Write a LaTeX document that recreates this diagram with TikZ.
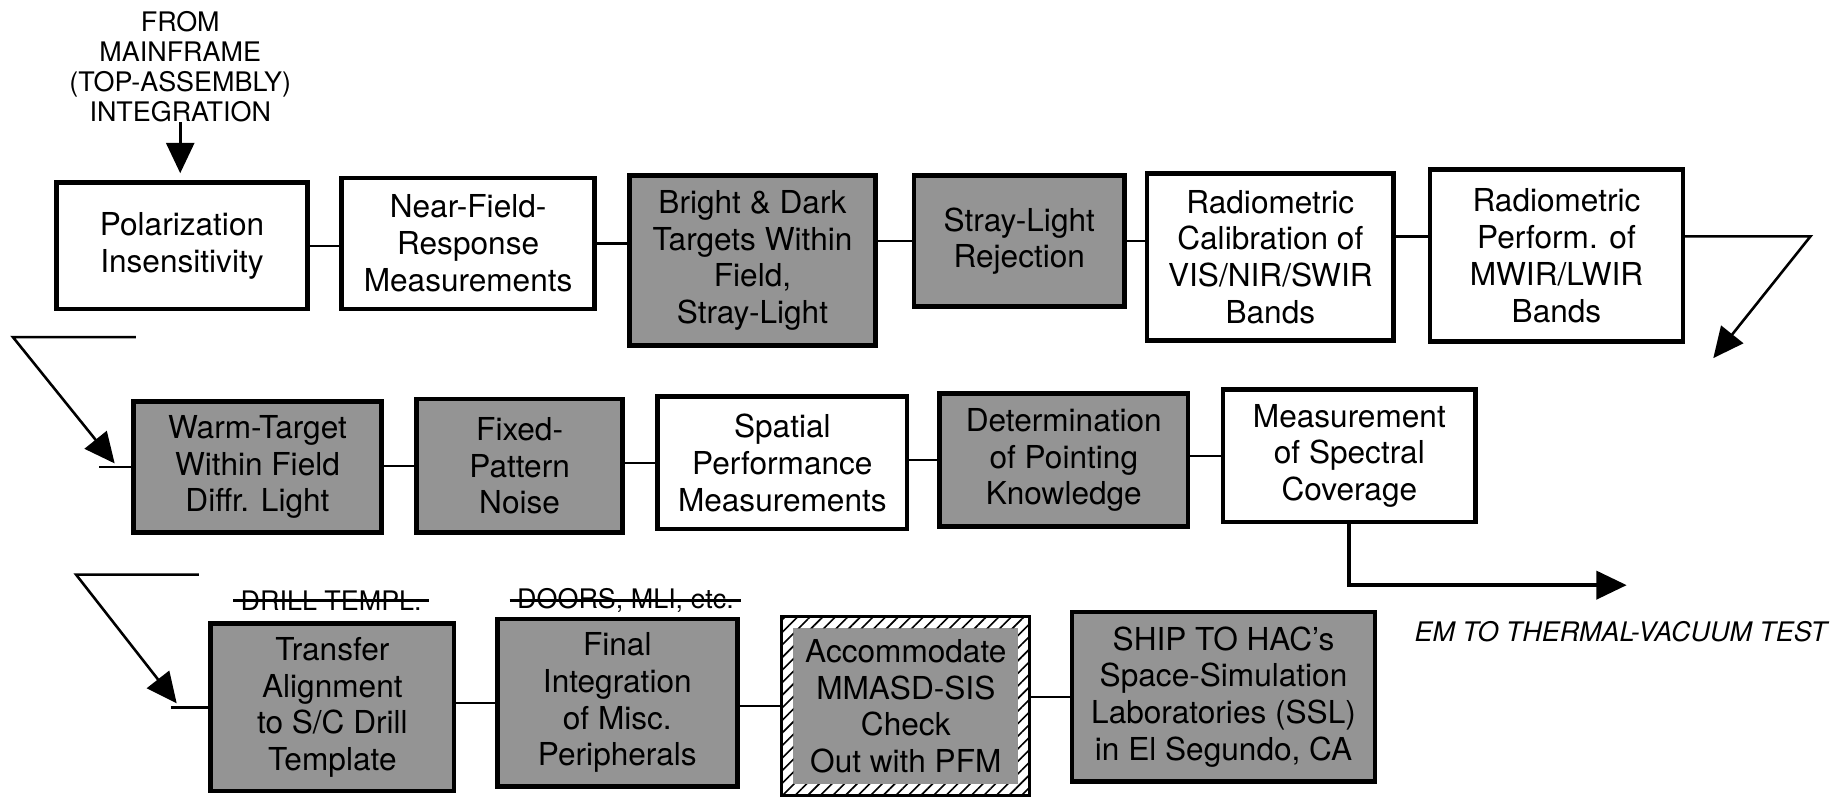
\documentclass[tikz,border=0pt]{standalone}
\usepackage{fontspec}
\setmainfont{TeX Gyre Heros}
\usepackage{tikz}
\usetikzlibrary{arrows.meta,positioning,patterns.meta}
\newcommand{\boxfont}{\fontsize{13.5pt}{15.7pt}\selectfont}
\newcommand{\notefont}{\fontsize{11.5pt}{12.7pt}\selectfont}
\tikzstyle{stage} = [draw,line width=2pt,rectangle,inner sep=0,align=center,font=\boxfont]
\tikzstyle{stagegray} = [stage,fill=black!42]
\tikzstyle{stagehatch} = [rectangle,inner sep=0,outer sep=5pt,align=center,font=\boxfont,fill=black!42]
\tikzstyle{hatch} = [pattern={Lines[angle=45,distance=3.8pt,line width=0.7pt]}]
\tikzstyle{link} = [-,line width=1pt]
\tikzstyle{feed} = [-{Triangle[length=13pt,width=12pt]},line width=1.1pt,line join=miter]
\tikzstyle{struck} = [font=\notefont,inner xsep=3pt,inner ysep=0pt]

\begin{document}
\begin{tikzpicture}[x=0.5pt,y=-0.5pt]
      \useasboundingbox (0,0) rectangle (1568,682);
      \node[align=center,font=\notefont,inner sep=0] (src) at (154,57) {FROM\\MAINFRAME\\(TOP-ASSEMBLY)\\INTEGRATION};
      \node[stage,minimum width=107.5pt,minimum height=54pt] (b1) at (155.5,210) {Polarization\\Insensitivity};
      \node[stage,minimum width=108pt,minimum height=56pt] (b2) at (400,208) {Near-Field-\\Response\\Measurements};
      \node[stagegray,minimum width=105pt,minimum height=72.5pt] (b3) at (643,222.5) {Bright \& Dark\\Targets Within\\Field,\\Stray-Light};
      \node[stagegray,minimum width=90pt,minimum height=56pt] (b4) at (871,206) {Stray-Light\\Rejection};
      \node[stage,minimum width=105.5pt,minimum height=71.5pt] (b5) at (1085.5,219.5) {Radiometric\\Calibration of\\VIS/NIR/SWIR\\Bands};
      \node[stage,minimum width=108pt,minimum height=73.5pt] (b6) at (1330,218.5) {Radiometric\\Perform. of\\MWIR/LWIR\\Bands};
      \node[stagegray,minimum width=106pt,minimum height=56pt] (b7) at (220,399) {Warm-Target\\Within Field\\Diffr. Light};
      \node[stagegray,minimum width=88pt,minimum height=57pt] (b8) at (444,398) {Fixed-\\Pattern\\Noise};
      \node[stage,minimum width=106.5pt,minimum height=56.5pt] (b9) at (668.5,395.5) {Spatial\\Performance\\Measurements};
      \node[stagegray,minimum width=106pt,minimum height=57pt] (b10) at (909,393) {Determination\\of Pointing\\Knowledge};
      \node[stage,minimum width=108pt,minimum height=56.5pt] (b11) at (1153,389.5) {Measurement\\of Spectral\\Coverage};
      \node[font=\notefont\itshape,inner sep=0] (em) at (1385,540) {EM TO THERMAL-VACUUM TEST};
      \node[stagegray,minimum width=104pt,minimum height=71.5pt] (b12) at (284,604.5) {Transfer\\Alignment\\to S/C Drill\\Template};
      \node[stagegray,minimum width=102.5pt,minimum height=71.5pt] (b13) at (527.5,600.5) {Final\\Integration\\of Misc.\\Peripherals};
      \node[stagehatch,minimum width=96pt,minimum height=66.5pt] (b14) at (774,603.5) {Accommodate\\MMASD-SIS\\Check\\Out with PFM};
      \node[stagegray,minimum width=129.5pt,minimum height=72.5pt] (b15) at (1045.5,595.5) {SHIP TO HAC's\\Space-Simulation\\Laboratories (SSL)\\in El Segundo, CA};
      \node[struck] (drill) at (283,513) {DRILL TEMPL.};
      \node[struck] (doors) at (534.5,513) {DOORS, MLI, etc.};
      \draw[line width=1pt] (drill.west) -- (drill.east);
      \draw[line width=1pt] (doors.west) -- (doors.east);
      \fill[hatch,even odd rule] (b14.north west) rectangle (b14.south east) ([shift={(5pt,-5pt)}]b14.north west) rectangle ([shift={(-5pt,5pt)}]b14.south east);
      \draw[line width=1.3pt] (b14.north west) rectangle (b14.south east);
      \coordinate (lvl1) at (0,202);
      \coordinate (turn1) at (1547,202);
      \coordinate (tip1) at (1464,306);
      \coordinate (top2) at (116,288);
      \coordinate (corner2) at (11,288);
      \coordinate (tip2) at (98,396);
      \coordinate[left=13.5pt of b7.west] (stub2);
      \coordinate (emend) at (1390,500);
      \coordinate (top3) at (170,491);
      \coordinate (corner3) at (65,491);
      \coordinate (tip3) at (151,601);
      \coordinate[left=16pt of b12.west] (stub3);
      \draw[feed,line width=1.2pt,shorten >=3pt] (src.south) -- (src.south |- b1.north);
      \draw[link] (b1.east) -- (b1.east -| b2.west);
      \draw[link] (b2.east) -- (b2.east -| b3.west);
      \draw[link] (b3.east |- b4.west) -- (b4.west);
      \draw[link] (b4.east) -- (b4.east -| b5.west);
      \draw[link] (b5.east |- lvl1) -- (b6.west |- lvl1);
      \draw[feed] (b6.east |- lvl1) -- (turn1) -- (tip1);
      \draw[feed] (top2) -- (corner2) -- (tip2);
      \draw[link] (stub2) -- (b7.west);
      \draw[link] (b7.east |- b8.west) -- (b8.west);
      \draw[link] (b8.east |- b9.west) -- (b9.west);
      \draw[link] (b9.east |- b10.west) -- (b10.west);
      \draw[link] (b10.east |- b11.west) -- (b11.west);
      \draw[feed,line width=1.7pt] (b11.south) |- (emend);
      \draw[feed] (top3) -- (corner3) -- (tip3);
      \draw[link] (stub3) -- (b12.west);
      \draw[link] (b12.east |- b13.west) -- (b13.west);
      \draw[link] (b13.east |- b14.west) -- (b14.west);
      \draw[link] (b14.east |- b15.west) -- (b15.west);
\end{tikzpicture}
\end{document}
